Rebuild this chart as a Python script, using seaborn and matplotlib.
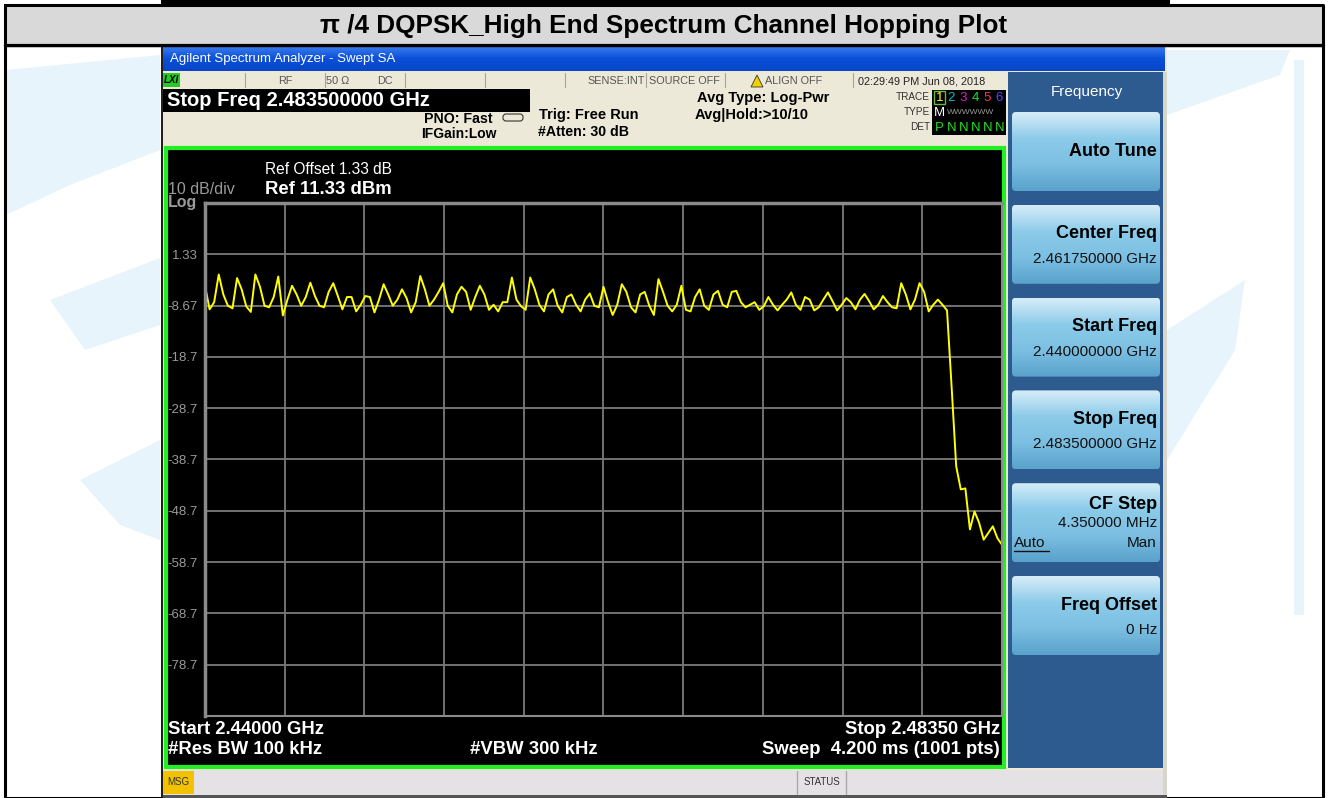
import numpy as np
import pandas as pd
import matplotlib
matplotlib.use("Agg")
import matplotlib.pyplot as plt
import matplotlib.patches as mpatches
import seaborn as sns

start_ghz = 2.44
stop_ghz = 2.4835
step_ghz = 0.00025          # one reading every 0.25 MHz
ref_level = 11.33           # dBm, top of screen
db_per_div = 10

# trace levels in dBm, 0.25 MHz apart (8 values = 2 MHz per row)
level_dbm = [
    -4.8, -9.4, -8.0, -2.6, -6.5, -8.7, -9.2, -3.3,
    -5.5, -8.8, -9.9, -2.6, -5.0, -8.7, -9.0, -7.0,
    -3.0, -10.6, -7.5, -4.8, -6.5, -8.7, -7.0, -4.2,
    -6.8, -8.7, -9.0, -6.0, -4.3, -6.8, -9.4, -7.0,
    -7.0, -9.8, -8.5, -6.8, -7.0, -10.0, -7.5, -4.5,
    -6.5, -8.7, -7.5, -5.5, -7.2, -10.0, -8.0, -2.9,
    -5.5, -8.7, -7.5, -6.0, -4.3, -8.7, -10.0, -6.5,
    -5.0, -6.0, -9.5, -7.0, -4.8, -6.5, -9.5, -8.5,
    -9.8, -8.0, -8.0, -3.2, -7.5, -8.8, -9.5, -3.2,
    -5.5, -8.5, -9.8, -6.5, -5.5, -8.7, -10.0, -7.0,
    -6.5, -8.5, -9.8, -7.5, -6.3, -8.7, -9.0, -5.0,
    -8.0, -10.5, -8.5, -4.5, -6.0, -9.0, -10.0, -6.5,
    -6.0, -8.7, -10.5, -3.5, -6.0, -8.7, -9.8, -8.5,
    -4.8, -9.5, -9.8, -7.0, -5.5, -8.7, -9.5, -6.5,
    -5.8, -8.5, -9.0, -6.0, -5.8, -8.0, -9.0, -8.5,
    -8.0, -9.5, -8.8, -7.0, -8.5, -9.6, -8.5, -7.5,
    -6.1, -8.5, -9.5, -7.0, -7.5, -9.6, -9.0, -7.5,
    -6.1, -7.8, -9.6, -8.5, -7.2, -8.0, -9.4, -7.5,
    -6.4, -7.8, -9.4, -8.5, -6.8, -8.0, -9.0, -9.2,
    -4.3, -6.5, -9.4, -7.5, -4.3, -6.0, -9.8, -8.5,
    -7.5, -8.5, -9.6, -24.5, -40.0, -44.5, -44.3, -52.3,
    -48.8, -51.0, -54.3, -53.0, -51.7, -54.0, -55.3,
]

y_tick_labels = ["1.33", "-8.67", "-18.7", "-28.7", "-38.7", "-48.7", "-58.7", "-68.7", "-78.7"]

softkeys = [
    ("Auto Tune", ""),
    ("Center Freq", "2.461750000 GHz"),
    ("Start Freq", "2.440000000 GHz"),
    ("Stop Freq", "2.483500000 GHz"),
    ("CF Step", "4.350000 MHz"),
    ("Freq Offset", "0 Hz"),
]

freq_ghz = start_ghz + step_ghz * np.arange(len(level_dbm))
df = pd.DataFrame({"freq": freq_ghz, "level": level_dbm})

sns.set_theme(style="white")
plt.rcParams["font.family"] = ["Liberation Sans", "DejaVu Sans"]

W, H = 1328, 798
fig = plt.figure(figsize=(W / 100, H / 100), dpi=100)

# background canvas in pixel units
bg = fig.add_axes([0, 0, 1, 1])
bg.set_xlim(0, W)
bg.set_ylim(H, 0)
bg.axis("off")


def box(x0, y0, x1, y1, fc, ec="none", lw=0, z=1, **kw):
    bg.add_patch(mpatches.Rectangle((x0, y0), x1 - x0, y1 - y0, facecolor=fc,
                                    edgecolor=ec, linewidth=lw, zorder=z, **kw))


def txt(x, y, s, size=9, color="black", weight="normal", ha="left", va="center", z=5, **kw):
    bg.text(x, y, s, fontsize=size, color=color, fontweight=weight, ha=ha, va=va, zorder=z, **kw)


# page / table frame
box(0, 0, W, H, "white", z=0)
box(161, 0, 1170, 4, "black", z=2)
box(6, 6, 1322, 43, "#d9d9d9", z=1)
bg.plot([5, 1323, 1323, 5, 5], [5, 5, 798, 798, 5], color="black", lw=2.2, zorder=3)
bg.plot([5, 1323], [44.5, 44.5], color="black", lw=2.5, zorder=3)
txt(664, 26, "\u03c0 /4 DQPSK_High End Spectrum Channel Hopping Plot", size=18.8, weight="bold", ha="center")

# pale watermark swooshes
wm = "#e8f4fc"
bg.add_patch(mpatches.Polygon([(6, 70), (160, 55), (160, 150), (70, 185), (6, 215)], fc=wm, ec="none", zorder=0.5))
bg.add_patch(mpatches.Polygon([(50, 300), (160, 258), (160, 325), (85, 350)], fc=wm, ec="none", zorder=0.5))
bg.add_patch(mpatches.Polygon([(80, 480), (160, 440), (160, 540), (120, 525)], fc=wm, ec="none", zorder=0.5))
bg.add_patch(mpatches.Polygon([(1167, 50), (1290, 50), (1280, 75), (1167, 115)], fc=wm, ec="none", zorder=0.5))
bg.add_patch(mpatches.Polygon([(1167, 330), (1245, 280), (1235, 350), (1167, 460)], fc=wm, ec="none", zorder=0.5))
bg.add_patch(mpatches.Polygon([(1294, 60), (1304, 60), (1304, 615), (1294, 615)], fc=wm, ec="none", zorder=0.5))

# analyzer window
box(161, 46, 1167, 798, "#ece9d8", z=1)
box(161, 46, 163, 798, "#202020", z=2)
grad = np.linspace(0, 1, 30).reshape(-1, 1)
bg.imshow(grad, extent=(163, 1165, 71, 46), cmap=matplotlib.colors.LinearSegmentedColormap.from_list(
    "tb", ["#3b7df0", "#0a4fd8", "#0846c8"]), aspect="auto", zorder=2)
txt(170, 59, "Agilent Spectrum Analyzer - Swept SA", size=9.5, color="white")

# status row
box(163, 72, 1008, 88, "#ece9d8", z=2)
box(163, 73, 180, 87, "#22cc22", z=3)
txt(164, 80, "LXI", size=7, weight="bold", style="italic")
for sx in [245, 325, 405, 485, 565, 646, 725, 853]:
    bg.plot([sx, sx], [73, 87], color="#a8a598", lw=0.8, zorder=3)
for x, s, ha in [(285, "RF", "center"), (338, "50 \u03a9", "center"), (385, "DC", "center"),
                 (645, "SENSE:INT", "right"), (649, "SOURCE OFF", "left"),
                 (765, "ALIGN OFF", "left"), (858, "02:29:49 PM Jun 08, 2018", "left")]:
    txt(x, 81, s, size=7.8, color="#555555" if x < 850 else "#222222", ha=ha)
bg.add_patch(mpatches.Polygon([(751, 87), (757, 75), (763, 87)], fc="#f0d000", ec="#333333", lw=0.6, zorder=4))

# black measurement header box
box(163, 89, 530, 112, "black", z=3)
txt(167, 101, "Stop Freq 2.483500000 GHz", size=14.5, color="white", weight="bold")
txt(492, 119, "PNO: Fast", size=10.2, weight="bold", ha="right")
txt(497, 134, "IFGain:Low", size=10, weight="bold", ha="right")
bg.add_patch(mpatches.FancyBboxPatch((503, 114), 20, 7, boxstyle="round,pad=0,rounding_size=3",
                                     fc="none", ec="#333333", lw=0.8, zorder=4))
txt(539, 115, "Trig: Free Run", size=10.5, weight="bold")
txt(538, 132, "#Atten: 30 dB", size=10.2, weight="bold")
txt(763, 98, "Avg Type: Log-Pwr", size=10.5, weight="bold", ha="center")
txt(695, 115, "Avg|Hold:>10/10", size=10.5, weight="bold")
for yy, s in [(97, "TRACE"), (112, "TYPE"), (127, "DET")]:
    txt(930, yy, s, size=7.2, color="#333333", ha="right")
box(932, 90, 1006, 135, "black", z=3)
box(934, 91, 945, 104, "none", ec="#66bb44", lw=1, z=4)
for i, c in enumerate(["#ffff00", "#00c0d0", "#e020d0", "#20e020", "#ff3060", "#6040ff"]):
    txt(939.5 + i * 12, 98, str(i + 1), size=9.5, color=c, ha="center")
txt(939.5, 113, "M", size=9.5, color="white", ha="center")
txt(947, 112, "WWWWWW", size=6, color="#999999")
for i in range(6):
    txt(939.5 + i * 12, 128, "P" if i == 0 else "N", size=9.5, color="#20e020", ha="center")

# plot frame
box(165, 147, 1005, 768, "black", z=2)
bg.add_patch(mpatches.Rectangle((166, 148), 838, 619, fc="none", ec="#22ee22", lw=3, zorder=6))
txt(168, 190, "10 dB/div", size=11.5, color="#9a9a9a")
txt(168, 203, "Log", size=11.5, color="#9a9a9a", weight="bold")
txt(265, 170, "Ref Offset 1.33 dB", size=11.2, color="white")
txt(265, 189, "Ref 11.33 dBm", size=13.3, color="white", weight="bold")
txt(168, 730, "Start 2.44000 GHz", size=13.3, color="white", weight="bold")
txt(168, 750, "#Res BW 100 kHz", size=13.3, color="white", weight="bold")
txt(470, 750, "#VBW 300 kHz", size=13.3, color="white", weight="bold")
txt(1000, 730, "Stop 2.48350 GHz", size=13.3, color="white", weight="bold", ha="right")
txt(1000, 750, "Sweep  4.200 ms (1001 pts)", size=13.3, color="white", weight="bold", ha="right")

# softkey panel
box(1008, 72, 1165, 768, "#2d5b90", z=2)
box(1163, 72, 1167, 798, "#d8d6cc", z=3)
txt(1087, 92, "Frequency", size=11, color="white", ha="center")
key_cmap = matplotlib.colors.LinearSegmentedColormap.from_list("key", ["#d4ecf8", "#8ccbe9", "#7cbfe2", "#5aa3cc"])
for i, (name, val) in enumerate(softkeys):
    y0 = 112 + i * 92.8
    y1 = y0 + 79
    im = bg.imshow(np.linspace(0, 1, 40).reshape(-1, 1), extent=(1012, 1160, y1, y0), cmap=key_cmap,
                   aspect="auto", zorder=3)
    clip = mpatches.FancyBboxPatch((1012, y0), 148, 79, boxstyle="round,pad=0,rounding_size=4",
                                   fc="none", ec="none", transform=bg.transData)
    bg.add_patch(clip)
    im.set_clip_path(clip)
    if name == "Auto Tune":
        txt(1157, y0 + 40, name, size=13, weight="bold", ha="right")
    elif name == "CF Step":
        txt(1157, y0 + 21, name, size=13, weight="bold", ha="right")
        txt(1157, y0 + 40, val, size=11, color="#111111", ha="right")
        txt(1157, y0 + 60, "Man", size=11, color="#111111", ha="right")
        txt(1014, y0 + 60, "Auto", size=11, color="#111111")
        bg.plot([1014, 1049], [y0 + 68, y0 + 68], color="#111111", lw=1, zorder=6)
    else:
        txt(1157, y0 + 29, name, size=13, weight="bold", ha="right")
        txt(1157, y0 + 54, val, size=11, color="#111111", ha="right")

# bottom status bar
box(163, 770, 1163, 795, "#e4e2e4", z=3)
box(163, 795, 1167, 798, "#555555", z=3)
box(163, 771, 194, 794, "#f2c200", z=4)
txt(178.5, 782, "MSG", size=7, color="#333333", ha="center")
bg.plot([797, 797], [771, 794], color="#aaaaaa", lw=1, zorder=4)
bg.plot([846, 846], [771, 794], color="#aaaaaa", lw=1, zorder=4)
txt(821.5, 782, "STATUS", size=7, color="#333333", ha="center")

# ---- the trace itself ----
ax = fig.add_axes([205 / W, 1 - 716 / H, (1002 - 205) / W, (716 - 203) / H], zorder=10)
ax.set_facecolor("black")
sns.lineplot(data=df, x="freq", y="level", ax=ax, color="#ffff00", lw=1.4, estimator=None)
ax.set_xlim(start_ghz, stop_ghz)
ax.set_ylim(ref_level - 10 * db_per_div, ref_level)
yt = [ref_level - db_per_div * (k + 1) for k in range(9)]
ax.set_yticks(yt)
ax.set_yticklabels(y_tick_labels, fontsize=9.5, color="#9a9a9a")
ax.set_xticks([start_ghz + (stop_ghz - start_ghz) * k / 10 for k in range(1, 10)])
ax.set_xticklabels([])
ax.tick_params(length=0, pad=5)
ax.grid(True, color="#7a7a7a", lw=1.3)
ax.set_xlabel("")
ax.set_ylabel("")
for side, sp in ax.spines.items():
    sp.set_visible(True)
    sp.set_color("#8a8a8a")
    sp.set_linewidth(2.5 if side in ("left", "top") else 1.5)

fig.savefig("out.png", dpi=100)
